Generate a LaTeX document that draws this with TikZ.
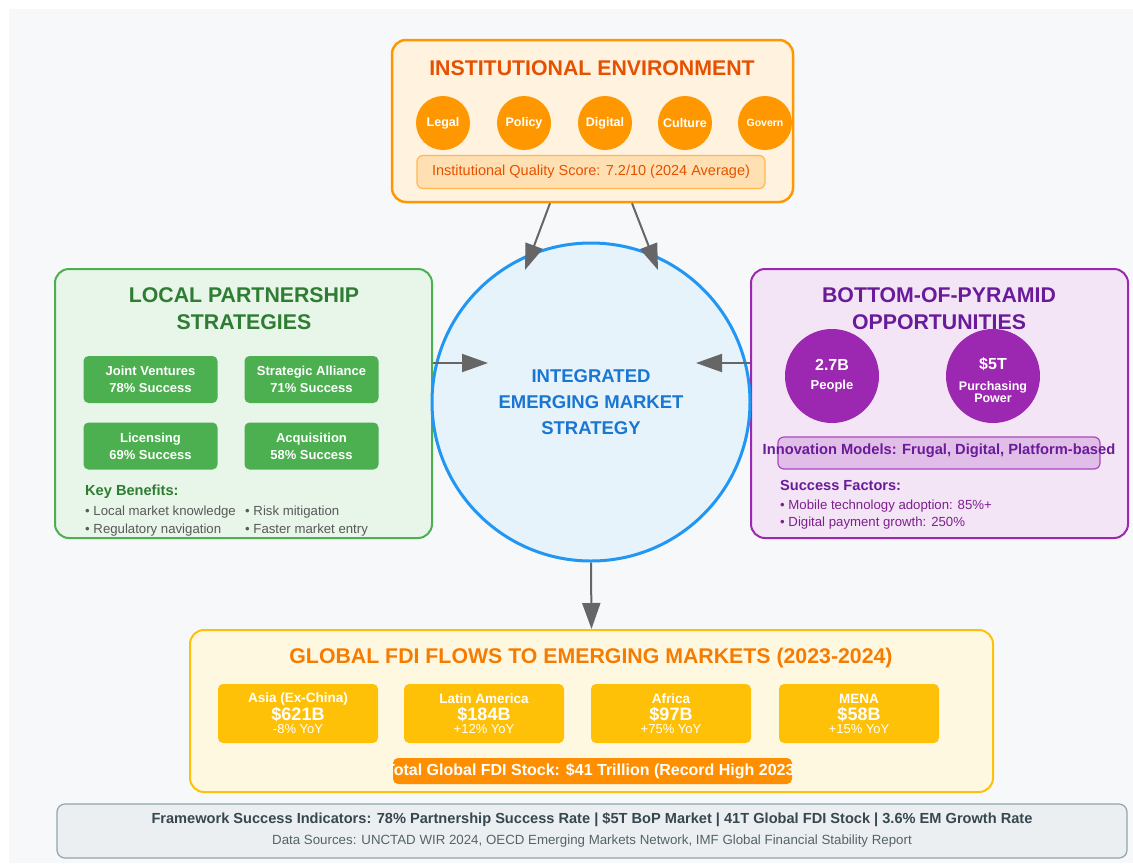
\documentclass[tikz,border=0pt]{standalone}
\usepackage{fontspec}
\setmainfont{Liberation Sans}
\usepackage{tikz}
\usetikzlibrary{calc}
\usetikzlibrary{shapes}
\usetikzlibrary{arrows.meta}
\usetikzlibrary{backgrounds}

\definecolor{bgpanel}{HTML}{F7F8FA}
\definecolor{instline}{HTML}{FF9800}
\definecolor{instfill}{HTML}{FFF3E0}
\definecolor{insttext}{HTML}{E65100}
\definecolor{scorefill}{HTML}{FFE0B2}
\definecolor{scoreline}{HTML}{FFB74D}
\definecolor{partline}{HTML}{4CAF50}
\definecolor{partfill}{HTML}{E8F5E9}
\definecolor{parttext}{HTML}{2E7D32}
\definecolor{bopline}{HTML}{9C27B0}
\definecolor{bopfill}{HTML}{F3E5F5}
\definecolor{boptext}{HTML}{6A1B9A}
\definecolor{innofill}{HTML}{E1BEE7}
\definecolor{innoline}{HTML}{AB47BC}
\definecolor{coreline}{HTML}{2196F3}
\definecolor{corefill}{HTML}{E6F3FB}
\definecolor{coretext}{HTML}{1976D2}
\definecolor{fdiline}{HTML}{FFC107}
\definecolor{fdifill}{HTML}{FFF8E1}
\definecolor{fditext}{HTML}{F57C00}
\definecolor{totalfill}{HTML}{FF8F00}
\definecolor{footfill}{HTML}{ECEFF1}
\definecolor{footline}{HTML}{90A4AE}
\definecolor{foottext}{HTML}{37474F}
\definecolor{arrowgray}{HTML}{666666}

\begin{document}
\begin{tikzpicture}[x=1pt, y=-1pt,
  panel/.style={draw, line width=2.5pt, rounded corners=14pt},
  heading/.style={font=\fontsize{21.3}{27}\selectfont\bfseries, align=center},
  dot/.style={circle, fill=instline, text=white, minimum size=54pt, inner sep=0pt,
    font=\fontsize{12.5}{14}\selectfont\bfseries},
  tag/.style={rounded corners=5pt, fill=partline, text=white, minimum width=134pt,
    minimum height=47pt, align=center, font=\fontsize{13}{17}\selectfont\bfseries},
  bop/.style={circle, fill=bopline, text=white, minimum size=94pt, inner sep=0pt},
  region/.style={rounded corners=5pt, fill=fdiline, minimum width=160pt,
    minimum height=59pt, inner sep=0pt},
  regtext/.style={text=white, inner sep=0pt},
  bullet/.style={anchor=west, inner sep=0pt, font=\fontsize{13.2}{15}\selectfont},
  arr/.style={draw=arrowgray, line width=2pt, -{Triangle[length=26pt,width=18pt]}}
]
  \useasboundingbox (0,0) rectangle (1133,863);
  \fill[bgpanel] (9,9) rectangle (1133,863);

  % institutional environment
  \node[panel, draw=instline, fill=instfill, minimum width=401pt, minimum height=162pt] (inst) at (592.5,121) {};
  \node[heading, text=insttext] (insttitle) at (592,68) {INSTITUTIONAL ENVIRONMENT};
  \foreach \x/\n/\t in {443/legal/Legal, 524/policy/Policy, 605/digital/Digital, 685/culture/Culture}
    \node[dot] (\n) at (\x,123) {\t};
  \node[dot, font=\fontsize{10.5}{12}\selectfont\bfseries] (govern) at (765,123) {Govern};
  \node[draw=scoreline, fill=scorefill, rounded corners=6pt, line width=1.2pt,
    minimum width=348pt, minimum height=33pt, text=insttext,
    font=\fontsize{14.5}{16}\selectfont] (score) at (591,172)
    {Institutional Quality Score: 7.2/10 (2024 Average)};

  % local partnerships
  \node[panel, draw=partline, fill=partfill, line width=2pt, minimum width=377pt, minimum height=269pt] (part) at (243.5,403.5) {};
  \node[heading, text=parttext] (parttitle) at (244,308.5) {LOCAL PARTNERSHIP\\STRATEGIES};
  \node[tag] (jv) at (150.5,379.5) {Joint Ventures\\78\% Success};
  \node[tag] (alliance) at (311.5,379.5) {Strategic Alliance\\71\% Success};
  \node[tag] (licence) at (150.5,446) {Licensing\\69\% Success};
  \node[tag] (acquire) at (311.5,446) {Acquisition\\58\% Success};
  \node[bullet, text=parttext, font=\fontsize{14.6}{16}\selectfont\bfseries] (benefits) at (85,492) {Key Benefits:};
  \node[bullet, text=black!65] (knowhow) at (85,512) {• Local market knowledge};
  \node[bullet, text=black!65] (regnav) at (85,530) {• Regulatory navigation};
  \node[bullet, text=black!65] (risk) at (245,512) {• Risk mitigation};
  \node[bullet, text=black!65] (faster) at (245,530) {• Faster market entry};

  % bottom of pyramid
  \node[panel, draw=bopline, fill=bopfill, line width=2pt, minimum width=377pt, minimum height=269pt] (bopbox) at (939.5,403.5) {};
  \node[heading, text=boptext] (boptitle) at (939,308.5) {BOTTOM-OF-PYRAMID\\OPPORTUNITIES};
  \node[bop] (people) at (832,376) {};
  \node[regtext, font=\fontsize{16}{18}\selectfont\bfseries] (peoplenum) at (832,365) {2.7B};
  \node[regtext, font=\fontsize{13}{14}\selectfont\bfseries] (peoplelab) at (832,386) {People};
  \node[bop] (power) at (993,376) {};
  \node[regtext, font=\fontsize{16}{18}\selectfont\bfseries] (powernum) at (993,364) {\$5T};
  \node[regtext, font=\fontsize{12.5}{14}\selectfont\bfseries, align=center] (powerlab) at (993,392)
    {Purchasing\\[-1.5pt]Power};
  \node[draw=innoline, fill=innofill, rounded corners=6pt, line width=1.2pt,
    minimum width=322pt, minimum height=32pt] (innobox) at (939,453) {};
  \node[text=boptext, font=\fontsize{14.7}{16}\selectfont\bfseries, inner sep=0pt] (inno) at (939,451)
    {Innovation Models: Frugal, Digital, Platform-based};
  \node[bullet, text=boptext, font=\fontsize{14.6}{16}\selectfont\bfseries] (factors) at (780,485) {Success Factors:};
  \node[bullet, text=bopline!80!black] (mobile) at (780,506) {• Mobile technology adoption: 85\%+};
  \node[bullet, text=bopline!80!black] (payment) at (780,523) {• Digital payment growth: 250\%};

  % core strategy
  \node[circle, draw=coreline, fill=corefill, line width=3pt, minimum size=318pt,
    text=coretext, align=center, font=\fontsize{18.5}{26}\selectfont\bfseries] (core) at (591,402)
    {INTEGRATED\\EMERGING MARKET\\STRATEGY};

  % fdi flows
  \node[panel, draw=fdiline, fill=fdifill, line width=2pt, minimum width=803pt, minimum height=162pt] (fdi) at (591.5,711) {};
  \node[heading, text=fditext] (fdititle) at (591,658)
    {GLOBAL FDI FLOWS TO EMERGING MARKETS (2023-2024)};
  \foreach \x/\n/\r/\v/\g in {298/asia/Asia (Ex-China)/621B/-8\% YoY,
                              484/latam/Latin America/184B/+12\% YoY,
                              671/africa/Africa/97B/+75\% YoY,
                              859/mena/MENA/58B/+15\% YoY}
  {
    \node[region] (\n) at (\x,713.5) {};
    \node[regtext, font=\fontsize{13.5}{15}\selectfont\bfseries] (\n-name) at (\x,699) {\r};
    \node[regtext, font=\fontsize{18}{18}\selectfont\bfseries] (\n-value) at (\x,714) {\$\v};
    \node[regtext, font=\fontsize{13}{14}\selectfont] (\n-change) at (\x,729) {\g};
  }
  \node[fill=totalfill, rounded corners=5pt, minimum width=399pt, minimum height=26pt] (total) at (592.5,771) {};
  \begin{scope}
    \clip (total.south west) rectangle (total.north east);
    \node[text=white, font=\fontsize{16}{18}\selectfont\bfseries, inner sep=0pt] (totaltext) at (592.5,771)
      {Total Global FDI Stock: \$41 Trillion (Record High 2023)};
  \end{scope}

  % footer
  \node[draw=footline, fill=footfill, rounded corners=8pt, line width=1.2pt,
    minimum width=1070pt, minimum height=54pt] (foot) at (592,831) {};
  \node[text=foottext, font=\fontsize{14.6}{16}\selectfont\bfseries] (indicators) at (592,820)
    {Framework Success Indicators: 78\% Partnership Success Rate | \$5T BoP Market | 41T Global FDI Stock | 3.6\% EM Growth Rate};
  \node[text=foottext!85, font=\fontsize{13.3}{15}\selectfont] (sources) at (592,841)
    {Data Sources: UNCTAD WIR 2024, OECD Emerging Markets Network, IMF Global Financial Stability Report};

  % connectors
  \coordinate (tipnw) at (525,270);
  \coordinate (tipne) at (658,270);
  \coordinate (tipw) at (488,363);
  \coordinate (tipe) at (696,363);
  \draw[arr] (inst.south -| 550,0) -- (tipnw);
  \draw[arr] (inst.south -| 632,0) -- (tipne);
  \draw[arr] (part.east |- 0,363) -- (tipw);
  \draw[arr] (bopbox.west |- 0,363) -- (tipe);
  \draw[arr] (core.south) -- (fdi.north);
\end{tikzpicture}
\end{document}
